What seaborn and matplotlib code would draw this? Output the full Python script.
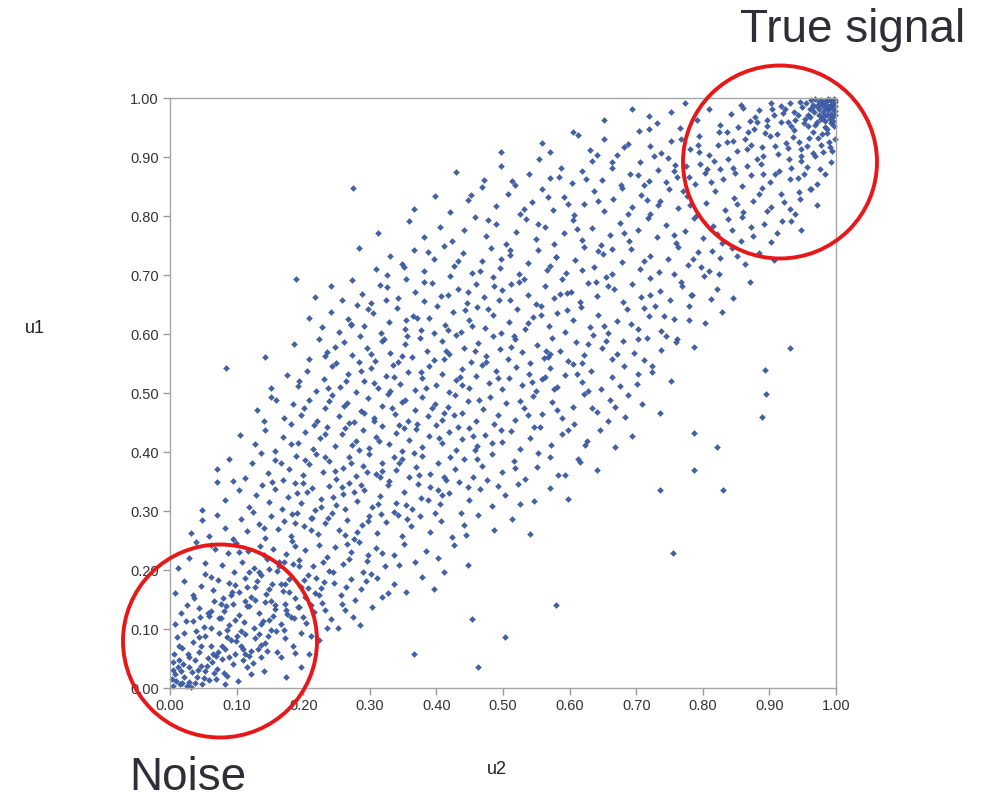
import numpy as np
import pandas as pd
import matplotlib
matplotlib.use("Agg")
import matplotlib.pyplot as plt
from matplotlib.patches import Ellipse
import seaborn as sns

# points as (u2, u1), grouped by u1 band
band_00 = [(0.004,0.003),(0.009,0.012),(0.015,0.006),(0.021,0.018),(0.007,0.024),(0.028,0.011),(0.033,0.027),(0.012,0.035),(0.041,0.019),(0.019,0.041),(0.046,0.038),(0.025,0.004),(0.052,0.028),(0.037,0.047),(0.058,0.014),(0.063,0.044),(0.003,0.016),(0.071,0.032),(0.078,0.049),(0.086,0.021),(0.094,0.041),(0.102,0.012),(0.115,0.036),(0.031,0.002),(0.048,0.007),(0.066,0.025),(0.013,0.047),(0.124,0.043),(0.005,0.031),(0.083,0.006),(0.141,0.028),(0.109,0.047),(0.174,0.018),(0.196,0.035),(0.462,0.036)]
band_05 = [(0.006,0.058),(0.018,0.067),(0.029,0.053),(0.034,0.078),(0.044,0.061),(0.052,0.089),(0.061,0.072),(0.069,0.055),(0.074,0.094),(0.082,0.066),(0.091,0.081),(0.097,0.057),(0.106,0.071),(0.113,0.092),(0.121,0.063),(0.128,0.084),(0.136,0.052),(0.143,0.077),(0.152,0.098),(0.161,0.061),(0.172,0.085),(0.184,0.072),(0.197,0.093),(0.209,0.057),(0.224,0.081),(0.011,0.087),(0.039,0.097),(0.057,0.051),(0.086,0.098),(0.118,0.054),(0.147,0.089),(0.167,0.052),(0.021,0.093),(0.367,0.058),(0.503,0.086),(0.078,0.071),(0.132,0.066),(0.047,0.071),(0.101,0.088),(0.188,0.059)]
band_10 = [(0.008,0.108),(0.017,0.127),(0.026,0.141),(0.035,0.113),(0.043,0.136),(0.051,0.104),(0.058,0.122),(0.066,0.147),(0.073,0.118),(0.081,0.131),(0.089,0.106),(0.094,0.143),(0.103,0.124),(0.111,0.112),(0.119,0.139),(0.126,0.102),(0.134,0.128),(0.142,0.146),(0.149,0.115),(0.157,0.134),(0.166,0.108),(0.173,0.142),(0.181,0.121),(0.193,0.137),(0.204,0.111),(0.216,0.129),(0.228,0.144),(0.241,0.117),(0.262,0.133),(0.285,0.106),(0.304,0.138),(0.453,0.117),(0.062,0.131),(0.098,0.115),(0.137,0.109),(0.176,0.125),(0.113,0.148),(0.045,0.121),(0.212,0.141),(0.084,0.139),(0.152,0.147)]
band_15 = [(0.008,0.161),(0.021,0.182),(0.034,0.157),(0.046,0.173),(0.053,0.194),(0.064,0.166),(0.072,0.183),(0.079,0.152),(0.088,0.178),(0.096,0.196),(0.104,0.163),(0.112,0.186),(0.121,0.155),(0.128,0.172),(0.137,0.191),(0.144,0.159),(0.153,0.177),(0.161,0.198),(0.169,0.164),(0.178,0.185),(0.187,0.153),(0.196,0.171),(0.207,0.192),(0.218,0.161),(0.231,0.179),(0.244,0.196),(0.257,0.158),(0.271,0.184),(0.286,0.167),(0.302,0.193),(0.318,0.154),(0.336,0.176),(0.355,0.162),(0.378,0.188),(0.579,0.141),(0.116,0.171),(0.149,0.168),(0.091,0.158),(0.173,0.176),(0.201,0.183),(0.134,0.197),(0.061,0.189),(0.226,0.169),(0.264,0.171),(0.294,0.181),(0.412,0.196),(0.397,0.168)]
band_20 = [(0.012,0.204),(0.029,0.221),(0.039,0.247),(0.052,0.212),(0.067,0.236),(0.078,0.208),(0.087,0.229),(0.099,0.246),(0.108,0.214),(0.117,0.233),(0.126,0.203),(0.135,0.241),(0.146,0.219),(0.155,0.236),(0.164,0.207),(0.174,0.228),(0.183,0.249),(0.193,0.217),(0.203,0.234),(0.214,0.206),(0.224,0.243),(0.236,0.222),(0.248,0.239),(0.259,0.211),(0.271,0.231),(0.283,0.248),(0.296,0.215),(0.309,0.237),(0.323,0.206),(0.337,0.226),(0.352,0.244),(0.368,0.213),(0.385,0.232),(0.403,0.221),(0.426,0.242),(0.448,0.209),(0.755,0.229),(0.061,0.243),(0.141,0.226),(0.188,0.241),(0.229,0.214),(0.265,0.244),(0.318,0.229),(0.344,0.208),(0.104,0.231),(0.171,0.213)]
band_25 = [(0.031,0.262),(0.048,0.284),(0.059,0.257),(0.071,0.293),(0.083,0.271),(0.094,0.252),(0.106,0.287),(0.115,0.266),(0.124,0.298),(0.133,0.278),(0.143,0.255),(0.152,0.291),(0.162,0.269),(0.171,0.283),(0.181,0.258),(0.191,0.296),(0.201,0.274),(0.211,0.289),(0.222,0.261),(0.232,0.279),(0.243,0.297),(0.254,0.267),(0.265,0.285),(0.276,0.253),(0.288,0.276),(0.299,0.292),(0.311,0.263),(0.324,0.281),(0.336,0.299),(0.349,0.258),(0.362,0.274),(0.376,0.291),(0.391,0.264),(0.407,0.283),(0.424,0.256),(0.441,0.277),(0.462,0.294),(0.487,0.268),(0.514,0.286),(0.541,0.261),(0.212,0.268),(0.237,0.288),(0.281,0.265),(0.317,0.295),(0.356,0.286),(0.141,0.272),(0.183,0.295),(0.263,0.259),(0.398,0.297),(0.445,0.259)]
band_30 = [(0.048,0.301),(0.071,0.349),(0.095,0.351),(0.082,0.318),(0.104,0.336),(0.118,0.307),(0.129,0.327),(0.138,0.344),(0.149,0.316),(0.158,0.338),(0.168,0.304),(0.177,0.324),(0.187,0.347),(0.197,0.313),(0.206,0.333),(0.217,0.302),(0.227,0.321),(0.238,0.343),(0.249,0.311),(0.259,0.329),(0.269,0.348),(0.281,0.317),(0.292,0.336),(0.303,0.306),(0.315,0.326),(0.327,0.344),(0.339,0.314),(0.351,0.332),(0.364,0.303),(0.377,0.322),(0.391,0.341),(0.405,0.312),(0.419,0.331),(0.434,0.349),(0.449,0.318),(0.466,0.337),(0.484,0.308),(0.503,0.327),(0.523,0.346),(0.546,0.317),(0.571,0.339),(0.598,0.321),(0.355,0.310),(0.736,0.336),(0.830,0.336),(0.286,0.344),(0.213,0.339),(0.245,0.323),(0.372,0.346),(0.408,0.327),(0.312,0.312),(0.191,0.331),(0.447,0.341),(0.153,0.349),(0.263,0.303),(0.492,0.342)]
band_35 = [(0.071,0.371),(0.089,0.389),(0.112,0.356),(0.123,0.381),(0.136,0.398),(0.147,0.364),(0.158,0.386),(0.169,0.352),(0.179,0.372),(0.189,0.393),(0.199,0.361),(0.209,0.379),(0.219,0.397),(0.229,0.366),(0.239,0.384),(0.249,0.354),(0.259,0.373),(0.269,0.391),(0.279,0.359),(0.289,0.377),(0.299,0.396),(0.309,0.363),(0.319,0.382),(0.329,0.351),(0.339,0.369),(0.349,0.388),(0.359,0.357),(0.369,0.375),(0.379,0.394),(0.391,0.362),(0.403,0.381),(0.415,0.353),(0.428,0.371),(0.441,0.389),(0.455,0.358),(0.469,0.377),(0.484,0.396),(0.499,0.366),(0.516,0.384),(0.533,0.355),(0.551,0.374),(0.571,0.392),(0.593,0.361),(0.616,0.383),(0.641,0.369),(0.787,0.370),(0.233,0.392),(0.296,0.366),(0.344,0.382),(0.374,0.361),(0.421,0.392),(0.271,0.381),(0.203,0.386),(0.316,0.357),(0.461,0.389)]
band_40 = [(0.105,0.429),(0.128,0.413),(0.143,0.437),(0.158,0.402),(0.169,0.426),(0.181,0.448),(0.192,0.416),(0.203,0.434),(0.214,0.405),(0.225,0.423),(0.236,0.442),(0.247,0.411),(0.258,0.431),(0.268,0.449),(0.279,0.418),(0.289,0.437),(0.299,0.406),(0.309,0.425),(0.319,0.444),(0.329,0.413),(0.339,0.432),(0.349,0.401),(0.359,0.421),(0.369,0.439),(0.379,0.408),(0.389,0.427),(0.399,0.446),(0.409,0.415),(0.419,0.434),(0.429,0.403),(0.439,0.422),(0.449,0.441),(0.461,0.411),(0.473,0.429),(0.486,0.447),(0.499,0.417),(0.512,0.436),(0.526,0.405),(0.541,0.424),(0.556,0.443),(0.572,0.412),(0.589,0.431),(0.607,0.448),(0.626,0.418),(0.646,0.437),(0.668,0.409),(0.694,0.428),(0.787,0.432),(0.821,0.408),(0.263,0.441),(0.314,0.419),(0.371,0.447),(0.404,0.423),(0.455,0.428),(0.344,0.446),(0.232,0.431),(0.284,0.404),(0.433,0.443)]
band_45 = [(0.131,0.471),(0.152,0.493),(0.171,0.458),(0.184,0.482),(0.197,0.463),(0.209,0.489),(0.221,0.452),(0.232,0.474),(0.243,0.496),(0.254,0.461),(0.265,0.483),(0.276,0.451),(0.286,0.469),(0.297,0.491),(0.307,0.457),(0.318,0.478),(0.328,0.499),(0.338,0.464),(0.348,0.485),(0.358,0.453),(0.368,0.472),(0.378,0.494),(0.388,0.461),(0.398,0.481),(0.408,0.455),(0.418,0.476),(0.428,0.497),(0.438,0.466),(0.448,0.486),(0.459,0.452),(0.470,0.473),(0.481,0.493),(0.493,0.462),(0.505,0.483),(0.518,0.454),(0.531,0.474),(0.545,0.495),(0.559,0.464),(0.574,0.484),(0.589,0.457),(0.605,0.477),(0.622,0.498),(0.641,0.468),(0.661,0.489),(0.683,0.459),(0.708,0.481),(0.736,0.466),(0.889,0.459),(0.895,0.498),(0.239,0.486),(0.292,0.466),(0.353,0.489),(0.412,0.466),(0.464,0.489),(0.526,0.487),(0.581,0.471),(0.334,0.475),(0.201,0.474)]
band_50 = [(0.084,0.542),(0.151,0.508),(0.175,0.531),(0.192,0.512),(0.206,0.537),(0.219,0.503),(0.231,0.524),(0.243,0.546),(0.255,0.511),(0.267,0.533),(0.279,0.502),(0.291,0.521),(0.302,0.543),(0.313,0.509),(0.324,0.529),(0.335,0.548),(0.346,0.516),(0.357,0.536),(0.368,0.505),(0.379,0.526),(0.389,0.545),(0.399,0.513),(0.409,0.533),(0.419,0.502),(0.429,0.522),(0.439,0.541),(0.449,0.509),(0.459,0.529),(0.469,0.548),(0.479,0.517),(0.489,0.537),(0.499,0.506),(0.509,0.526),(0.519,0.544),(0.529,0.513),(0.539,0.533),(0.549,0.503),(0.559,0.523),(0.570,0.542),(0.581,0.511),(0.593,0.531),(0.605,0.549),(0.618,0.518),(0.632,0.538),(0.647,0.507),(0.663,0.527),(0.681,0.546),(0.701,0.515),(0.724,0.535),(0.752,0.521),(0.893,0.539),(0.287,0.538),(0.336,0.527),(0.384,0.508),(0.436,0.528),(0.493,0.525),(0.544,0.519),(0.611,0.532),(0.264,0.521)]
band_55 = [(0.142,0.561),(0.186,0.583),(0.209,0.557),(0.223,0.592),(0.236,0.569),(0.249,0.551),(0.261,0.587),(0.273,0.564),(0.285,0.597),(0.296,0.576),(0.308,0.554),(0.319,0.589),(0.331,0.567),(0.342,0.552),(0.353,0.583),(0.364,0.561),(0.375,0.594),(0.386,0.572),(0.397,0.556),(0.408,0.588),(0.419,0.566),(0.430,0.599),(0.441,0.577),(0.452,0.553),(0.463,0.585),(0.474,0.563),(0.485,0.596),(0.496,0.574),(0.507,0.558),(0.518,0.591),(0.529,0.569),(0.540,0.551),(0.551,0.582),(0.562,0.559),(0.573,0.593),(0.585,0.571),(0.597,0.555),(0.609,0.586),(0.622,0.564),(0.635,0.598),(0.649,0.576),(0.664,0.557),(0.680,0.589),(0.697,0.567),(0.716,0.594),(0.737,0.573),(0.761,0.591),(0.787,0.578),(0.931,0.576),(0.564,0.571),(0.567,0.561),(0.571,0.566),(0.302,0.566),(0.356,0.597),(0.411,0.557),(0.458,0.571),(0.512,0.578),(0.628,0.583)]
band_60 = [(0.209,0.627),(0.228,0.612),(0.241,0.638),(0.254,0.604),(0.267,0.626),(0.280,0.649),(0.292,0.613),(0.305,0.635),(0.317,0.602),(0.329,0.621),(0.341,0.644),(0.353,0.609),(0.365,0.631),(0.377,0.606),(0.389,0.627),(0.401,0.648),(0.413,0.616),(0.425,0.637),(0.437,0.603),(0.449,0.623),(0.461,0.645),(0.473,0.611),(0.485,0.633),(0.497,0.601),(0.509,0.621),(0.521,0.642),(0.533,0.608),(0.545,0.629),(0.557,0.647),(0.569,0.614),(0.581,0.635),(0.593,0.604),(0.605,0.624),(0.617,0.646),(0.630,0.612),(0.643,0.633),(0.657,0.602),(0.671,0.622),(0.686,0.643),(0.702,0.609),(0.719,0.631),(0.737,0.605),(0.757,0.626),(0.779,0.647),(0.803,0.619),(0.829,0.638),(0.355,0.624),(0.418,0.606),(0.477,0.643),(0.538,0.619),(0.596,0.641),(0.651,0.613),(0.712,0.644),(0.271,0.617)]
band_65 = [(0.189,0.694),(0.217,0.663),(0.241,0.681),(0.258,0.658),(0.273,0.691),(0.288,0.668),(0.302,0.652),(0.316,0.683),(0.326,0.700),(0.326,0.680),(0.342,0.661),(0.355,0.694),(0.368,0.672),(0.381,0.656),(0.394,0.687),(0.407,0.665),(0.420,0.698),(0.433,0.676),(0.446,0.653),(0.459,0.685),(0.472,0.663),(0.485,0.696),(0.498,0.674),(0.511,0.657),(0.524,0.689),(0.537,0.667),(0.550,0.651),(0.563,0.682),(0.576,0.661),(0.589,0.693),(0.602,0.671),(0.615,0.655),(0.628,0.686),(0.641,0.664),(0.654,0.697),(0.667,0.677),(0.680,0.654),(0.693,0.684),(0.707,0.662),(0.721,0.695),(0.736,0.673),(0.751,0.658),(0.767,0.689),(0.784,0.667),(0.802,0.698),(0.822,0.676),(0.845,0.661),(0.871,0.688),(0.447,0.672),(0.512,0.684),(0.586,0.668),(0.658,0.681),(0.721,0.667),(0.381,0.689)]
band_70 = [(0.283,0.746),(0.309,0.711),(0.331,0.733),(0.348,0.719),(0.366,0.742),(0.381,0.706),(0.396,0.728),(0.411,0.749),(0.426,0.716),(0.440,0.737),(0.454,0.703),(0.468,0.723),(0.482,0.745),(0.496,0.712),(0.510,0.734),(0.524,0.701),(0.538,0.721),(0.552,0.743),(0.566,0.709),(0.580,0.731),(0.594,0.704),(0.608,0.725),(0.622,0.747),(0.636,0.714),(0.650,0.736),(0.664,0.702),(0.678,0.722),(0.692,0.744),(0.706,0.711),(0.720,0.733),(0.734,0.705),(0.748,0.727),(0.763,0.748),(0.778,0.717),(0.793,0.739),(0.809,0.707),(0.826,0.729),(0.844,0.746),(0.863,0.718),(0.884,0.738),(0.907,0.726),(0.497,0.728),(0.571,0.716),(0.643,0.741),(0.712,0.724),(0.786,0.727),(0.433,0.724),(0.851,0.733)]
band_75 = [(0.312,0.771),(0.359,0.792),(0.381,0.764),(0.405,0.781),(0.423,0.757),(0.441,0.776),(0.458,0.798),(0.474,0.766),(0.489,0.787),(0.505,0.753),(0.520,0.773),(0.535,0.795),(0.549,0.761),(0.563,0.782),(0.577,0.752),(0.591,0.771),(0.605,0.793),(0.619,0.759),(0.633,0.779),(0.647,0.751),(0.661,0.768),(0.675,0.789),(0.689,0.757),(0.703,0.777),(0.717,0.797),(0.731,0.764),(0.745,0.785),(0.759,0.754),(0.773,0.774),(0.787,0.796),(0.801,0.762),(0.815,0.783),(0.829,0.755),(0.844,0.776),(0.859,0.799),(0.875,0.766),(0.892,0.787),(0.911,0.771),(0.933,0.792),(0.948,0.776),(0.611,0.778),(0.682,0.772),(0.756,0.768),(0.822,0.769),(0.553,0.787),(0.903,0.756)]
band_80 = [(0.274,0.848),(0.366,0.812),(0.398,0.834),(0.421,0.806),(0.447,0.827),(0.469,0.849),(0.489,0.817),(0.508,0.838),(0.526,0.803),(0.543,0.823),(0.559,0.845),(0.575,0.811),(0.591,0.832),(0.606,0.801),(0.621,0.821),(0.636,0.843),(0.651,0.809),(0.665,0.829),(0.679,0.848),(0.693,0.815),(0.707,0.836),(0.721,0.804),(0.735,0.825),(0.749,0.846),(0.763,0.813),(0.777,0.834),(0.791,0.802),(0.805,0.822),(0.819,0.843),(0.833,0.811),(0.847,0.831),(0.861,0.807),(0.875,0.826),(0.889,0.847),(0.903,0.816),(0.917,0.837),(0.931,0.812),(0.946,0.829),(0.963,0.845),(0.971,0.818),(0.852,0.821),(0.884,0.838),(0.922,0.824),(0.781,0.819),(0.716,0.827),(0.642,0.826),(0.945,0.841)]
band_85 = [(0.429,0.874),(0.472,0.861),(0.497,0.885),(0.518,0.853),(0.539,0.872),(0.554,0.897),(0.571,0.864),(0.587,0.882),(0.603,0.856),(0.619,0.877),(0.634,0.893),(0.649,0.861),(0.663,0.881),(0.677,0.852),(0.691,0.871),(0.705,0.891),(0.719,0.859),(0.733,0.878),(0.747,0.898),(0.761,0.866),(0.775,0.885),(0.789,0.854),(0.803,0.873),(0.817,0.893),(0.831,0.862),(0.845,0.881),(0.859,0.851),(0.873,0.869),(0.887,0.889),(0.901,0.858),(0.915,0.876),(0.929,0.896),(0.943,0.864),(0.957,0.883),(0.971,0.854),(0.984,0.872),(0.992,0.891),(0.826,0.879),(0.867,0.884),(0.908,0.871),(0.948,0.893),(0.756,0.876),(0.796,0.889),(0.891,0.872),(0.932,0.882),(0.976,0.879)]
band_90 = [(0.497,0.908),(0.571,0.908),(0.605,0.942),(0.613,0.937),(0.558,0.923),(0.631,0.912),(0.652,0.931),(0.671,0.904),(0.688,0.922),(0.704,0.944),(0.719,0.947),(0.721,0.918),(0.737,0.906),(0.752,0.928),(0.766,0.949),(0.781,0.914),(0.795,0.935),(0.809,0.903),(0.823,0.921),(0.837,0.942),(0.851,0.911),(0.864,0.931),(0.877,0.948),(0.889,0.917),(0.901,0.936),(0.913,0.905),(0.925,0.924),(0.937,0.945),(0.948,0.913),(0.959,0.932),(0.969,0.902),(0.978,0.921),(0.986,0.941),(0.994,0.911),(0.998,0.931),(0.873,0.921),(0.912,0.939),(0.944,0.926),(0.966,0.943),(0.981,0.909),(0.845,0.927),(0.891,0.902),(0.928,0.916),(0.957,0.918),(0.989,0.925)]
band_95 = [(0.719,0.969),(0.651,0.962),(0.694,0.981),(0.731,0.958),(0.752,0.976),(0.773,0.991),(0.791,0.963),(0.809,0.982),(0.826,0.955),(0.842,0.973),(0.857,0.989),(0.871,0.961),(0.884,0.979),(0.896,0.952),(0.907,0.971),(0.918,0.986),(0.928,0.959),(0.937,0.977),(0.946,0.993),(0.954,0.964),(0.961,0.981),(0.968,0.954),(0.974,0.972),(0.979,0.988),(0.984,0.961),(0.988,0.979),(0.991,0.996),(0.994,0.968),(0.996,0.985),(0.998,0.993),(0.999,0.978),(0.993,0.989),(0.986,0.997),(0.981,0.976),(0.975,0.994),(0.966,0.989),(0.958,0.971),(0.949,0.984),(0.939,0.962),(0.921,0.975),(0.902,0.991),(0.879,0.968),(0.861,0.983),(0.997,0.999),(0.989,0.984),(0.977,0.965),(0.963,0.996),(0.992,0.957),(0.983,0.951),(0.971,0.959),(0.998,0.972),(0.995,0.981),(0.987,0.971),(0.952,0.957),(0.932,0.953)]

# extra points filling the dense regions (noise corner, middle cloud, signal corner)
fill_noise = [(0.016,0.029),(0.027,0.058),(0.038,0.009),(0.044,0.086),(0.055,0.037),(0.062,0.101),(0.069,0.016),(0.077,0.119),(0.089,0.052),(0.093,0.163),(0.107,0.097),(0.116,0.139),(0.122,0.024),(0.131,0.181),(0.139,0.113),(0.146,0.062),(0.158,0.141),(0.163,0.213),(0.171,0.099),(0.179,0.163),(0.186,0.119),(0.194,0.207),(0.203,0.154),(0.211,0.088),(0.219,0.187),(0.233,0.133),(0.246,0.178),(0.252,0.101),(0.268,0.219),(0.277,0.149),(0.013,0.072),(0.024,0.113),(0.036,0.152),(0.042,0.031),(0.057,0.127),(0.064,0.058),(0.076,0.142),(0.085,0.087),(0.098,0.174),(0.109,0.066),(0.118,0.197),(0.127,0.149),(0.134,0.092),(0.148,0.201),(0.155,0.122),(0.166,0.176),(0.184,0.211),(0.192,0.138),(0.207,0.169),(0.223,0.158),(0.004,0.044),(0.018,0.009),(0.029,0.036),(0.051,0.017),(0.072,0.061),(0.081,0.026),(0.099,0.079),(0.112,0.058),(0.136,0.073),(0.159,0.097),(0.174,0.133),(0.199,0.121),(0.239,0.198),(0.258,0.142),(0.289,0.196),(0.311,0.187),(0.327,0.161),(0.298,0.226),(0.274,0.121),(0.236,0.101)]
fill_mid = [(0.187,0.279),(0.226,0.306),(0.258,0.341),(0.297,0.283),(0.319,0.367),(0.343,0.294),(0.366,0.398),(0.387,0.318),(0.412,0.357),(0.437,0.296),(0.458,0.404),(0.476,0.352),(0.497,0.438),(0.518,0.373),(0.537,0.462),(0.552,0.398),(0.576,0.506),(0.598,0.437),(0.619,0.551),(0.633,0.474),(0.654,0.588),(0.676,0.512),(0.692,0.617),(0.711,0.556),(0.728,0.648),(0.744,0.597),(0.768,0.682),(0.779,0.623),(0.798,0.713),(0.813,0.659),(0.247,0.367),(0.273,0.412),(0.306,0.452),(0.331,0.503),(0.352,0.441),(0.377,0.536),(0.394,0.474),(0.415,0.571),(0.438,0.513),(0.453,0.614),(0.474,0.552),(0.494,0.658),(0.516,0.596),(0.531,0.694),(0.557,0.633),(0.579,0.731),(0.596,0.669),(0.618,0.708),(0.639,0.688),(0.663,0.744),(0.216,0.446),(0.237,0.509),(0.261,0.478),(0.283,0.553),(0.307,0.517),(0.321,0.592),(0.349,0.563),(0.371,0.628),(0.396,0.602),(0.417,0.667),(0.443,0.641),(0.466,0.706),(0.487,0.681),(0.511,0.742),(0.181,0.414),(0.199,0.347),(0.166,0.381),(0.213,0.288),(0.276,0.332),(0.337,0.392),(0.402,0.336),(0.426,0.462),(0.483,0.416),(0.546,0.442),(0.563,0.527),(0.627,0.503),(0.671,0.566),(0.702,0.591),(0.741,0.631),(0.756,0.702),(0.783,0.667),(0.824,0.701),(0.612,0.389),(0.657,0.452),(0.688,0.497),(0.724,0.546),(0.759,0.587),(0.582,0.361),(0.526,0.312),(0.623,0.412),(0.668,0.477),(0.703,0.533),(0.248,0.578),(0.272,0.616),(0.297,0.643),(0.324,0.657),(0.352,0.713),(0.387,0.739),(0.232,0.562),(0.194,0.521),(0.159,0.489),(0.141,0.452)]
fill_signal = [(0.688,0.803),(0.712,0.853),(0.733,0.819),(0.758,0.887),(0.771,0.842),(0.794,0.909),(0.812,0.857),(0.836,0.926),(0.849,0.873),(0.868,0.943),(0.882,0.896),(0.897,0.962),(0.909,0.918),(0.923,0.982),(0.936,0.934),(0.947,0.902),(0.958,0.952),(0.967,0.977),(0.973,0.933),(0.982,0.993),(0.987,0.948),(0.993,0.973),(0.996,0.961),(0.999,0.987),(0.984,0.983),(0.972,0.986),(0.961,0.968),(0.955,0.991),(0.943,0.972),(0.931,0.991),(0.917,0.959),(0.904,0.981),(0.893,0.941),(0.881,0.959),(0.866,0.913),(0.853,0.951),(0.838,0.897),(0.824,0.943),(0.807,0.879),(0.793,0.921),(0.779,0.866),(0.767,0.931),(0.745,0.857),(0.726,0.901),(0.703,0.869),(0.682,0.917),(0.664,0.892),(0.641,0.904),(0.624,0.863),(0.598,0.821),(0.584,0.866),(0.567,0.832),(0.532,0.812),(0.514,0.859),(0.478,0.793),(0.452,0.836),(0.931,0.862),(0.952,0.871),(0.966,0.906),(0.979,0.939),(0.991,0.917),(0.961,0.846),(0.939,0.803),(0.919,0.792),(0.897,0.808),(0.873,0.781),(0.858,0.757),(0.838,0.795),(0.814,0.741),(0.991,0.964),(0.997,0.952),(0.986,0.989),(0.978,0.997),(0.969,0.999),(0.994,0.994),(0.988,0.999),(0.999,0.996),(0.982,0.969),(0.975,0.981),(0.964,0.983)]

bands = [band_00, band_05, band_10, band_15, band_20, band_25, band_30, band_35, band_40, band_45,
         band_50, band_55, band_60, band_65, band_70, band_75, band_80, band_85, band_90, band_95,
         fill_noise, fill_mid, fill_signal]
ticks = [0.0, 0.1, 0.2, 0.3, 0.4, 0.5, 0.6, 0.7, 0.8, 0.9, 1.0]

pts = [p for b in bands for p in b]
df = pd.DataFrame(pts, columns=["u2", "u1"])

sns.set_style("white")
plt.rcParams["font.family"] = ["Liberation Sans", "DejaVu Sans"]

fig = plt.figure(figsize=(9.84, 7.99), dpi=100)
ax = fig.add_axes([0.1728, 0.1389, 0.6768, 0.7384])

sns.scatterplot(data=df, x="u2", y="u1", ax=ax, marker="D", s=9,
                color="#4262aa", edgecolor="#33519a", linewidth=0.3, clip_on=False)

ax.set_xlim(0, 1)
ax.set_ylim(0, 1)
ax.set_xticks(ticks)
ax.set_yticks(ticks)
ax.set_xticklabels([f"{t:.2f}" for t in ticks], fontsize=10.5, color="#333333")
ax.set_yticklabels([f"{t:.2f}" for t in ticks], fontsize=10.5, color="#333333")
ax.tick_params(axis="both", direction="out", length=5, width=1, color="#999999", pad=3,
               bottom=True, left=True)
for sp in ax.spines.values():
    sp.set_color("#a6a6a6")
    sp.set_linewidth(1)
ax.set_xlabel("")
ax.set_ylabel("")

fig.text(35 / 984, 1 - 328 / 799, "u1", fontsize=13, color="#222222", ha="center", va="center")
fig.text(497 / 984, 1 - 770 / 799, "u2", fontsize=13, color="#222222", ha="center", va="center")
fig.text(853 / 984, 1 - 30 / 799, "True signal", fontsize=33, color="#2e2e38", ha="center", va="center")
fig.text(188 / 984, 1 - 778 / 799, "Noise", fontsize=33, color="#2e2e38", ha="center", va="center")

for cx, cy in [(780, 162), (220, 641)]:
    fig.patches.append(Ellipse((cx / 984, 1 - cy / 799), 194 / 984, 193 / 799,
                               transform=fig.transFigure, fill=False,
                               edgecolor="#e81818", linewidth=2.8))

fig.savefig("out.png", dpi=100, facecolor="white")
